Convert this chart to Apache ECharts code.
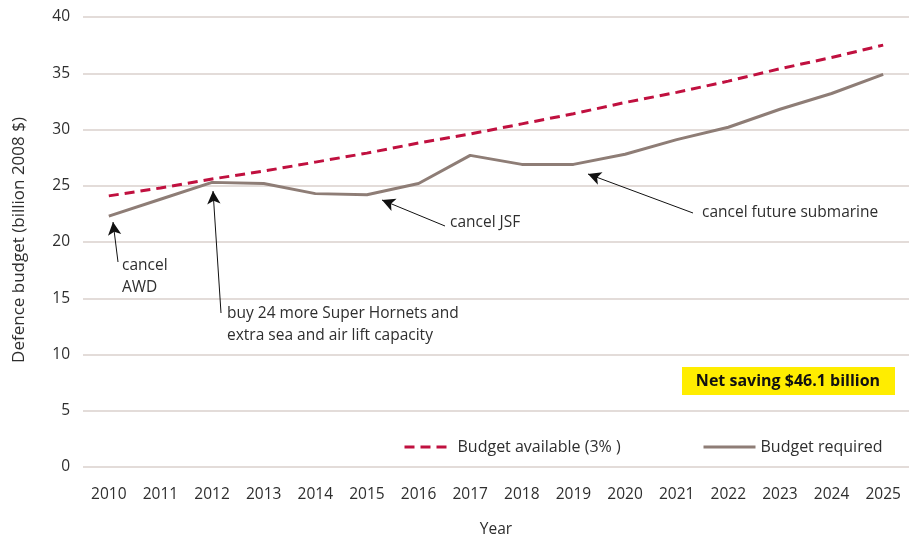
<!DOCTYPE html>
<html>
<head>
<meta charset="utf-8">
<script src="https://cdn.jsdelivr.net/npm/echarts@6/dist/echarts.min.js"></script>
<style>
  html, body { margin: 0; padding: 0; background: #fff; }
  #chart { width: 909px; height: 540px; }
</style>
</head>
<body>
<div id="chart"></div>
<script>
// years on the x axis
const years = ['2010', '2011', '2012', '2013', '2014', '2015', '2016', '2017',
  '2018', '2019', '2020', '2021', '2022', '2023', '2024', '2025']

// budget available, growing at 3% a year
const budgetAvailable = [24.1, 24.8, 25.6, 26.3, 27.1, 27.9, 28.8, 29.6,
  30.5, 31.4, 32.4, 33.3, 34.3, 35.4, 36.4, 37.5]

// budget required (solid line)
const budgetRequired = [22.3, 23.8, 25.3, 25.2, 24.3, 24.2, 25.2, 27.7,
  26.9, 26.9, 27.8, 29.1, 30.2, 31.8, 33.2, 34.9]

const yTicks = { min: 0, max: 40, interval: 5 }

const FONT = '"Open Sans", "Noto Sans", sans-serif'
const TEXT = '#2e2e2e'
const RED = '#c0103f'
const TAUPE = '#8e7d76'
const GRID = '#dad1cd'

const chart = echarts.init(document.getElementById('chart'))

const arrowLine = { color: '#111', width: 1, type: 'solid' }

function note(x, y, text) {
  return {
    type: 'text',
    left: x,
    top: y,
    style: { text, font: '15.5px ' + FONT, fill: TEXT, lineHeight: 22 },
  }
}

chart.setOption({
  animation: false,
  textStyle: { fontFamily: FONT },
  grid: {
    left: 83, right: 0, top: 17, bottom: 73,
    containLabel: false, outerBoundsMode: 'none',
  },
  legend: [
    {
      data: ['Budget available (3% )'],
      left: 398,
      top: 434,
      itemWidth: 48,
      itemHeight: 14,
      itemStyle: { opacity: 0 },
      lineStyle: { width: 3 },
      textStyle: { color: TEXT, fontSize: 16 },
    },
    {
      data: ['Budget required'],
      left: 697,
      top: 434,
      itemWidth: 52,
      itemHeight: 14,
      itemStyle: { opacity: 0 },
      lineStyle: { width: 3 },
      textStyle: { color: TEXT, fontSize: 16 },
    },
  ],
  xAxis: {
    type: 'category',
    data: years,
    boundaryGap: true,
    name: 'Year',
    nameLocation: 'middle',
    nameGap: 55,
    nameTextStyle: { color: TEXT, fontSize: 15.5 },
    axisLine: { show: false },
    axisTick: { show: false },
    axisLabel: { color: TEXT, fontSize: 15.5, margin: 20 },
  },
  yAxis: {
    type: 'value',
    min: yTicks.min,
    max: yTicks.max,
    interval: yTicks.interval,
    name: 'Defence budget (billion 2008 $)',
    nameLocation: 'middle',
    nameGap: 55,
    nameTextStyle: { color: TEXT, fontSize: 17, padding: [0, 0, 0, 4] },
    axisLine: { show: false },
    axisTick: { show: false },
    axisLabel: { color: TEXT, fontSize: 15.5, margin: 13 },
    splitLine: { lineStyle: { color: GRID, width: 1.5 } },
  },
  series: [
    {
      name: 'Budget available (3% )',
      type: 'line',
      data: budgetAvailable,
      symbol: 'none',
      lineStyle: { color: RED, width: 3, type: [10, 6] },
      itemStyle: { color: RED },
      z: 3,
    },
    {
      name: 'Budget required',
      type: 'line',
      data: budgetRequired,
      symbol: 'none',
      lineStyle: { color: TAUPE, width: 3 },
      itemStyle: { color: TAUPE },
      z: 2,
      markLine: {
        silent: true,
        symbol: ['none', 'arrow'],
        symbolSize: [10, 13],
        label: { show: false },
        lineStyle: arrowLine,
        data: [
          [{ x: 118, y: 262 }, { x: 113, y: 222 }],
          [{ x: 221, y: 313 }, { x: 213, y: 191 }],
          [{ x: 445, y: 226 }, { x: 382, y: 200 }],
          [{ x: 693, y: 213 }, { x: 588, y: 174 }],
        ],
      },
    },
  ],
  graphic: [
    note(122, 255, 'cancel\nAWD'),
    note(227, 303, 'buy 24 more Super Hornets and\nextra sea and air lift capacity'),
    note(450, 212, 'cancel JSF'),
    note(702, 202, 'cancel future submarine'),
    {
      type: 'rect',
      shape: { x: 682, y: 367, width: 213, height: 28 },
      style: { fill: '#ffed00' },
    },
    {
      type: 'text',
      x: 788,
      y: 381,
      style: {
        text: 'Net saving $46.1 billion',
        font: 'bold 16px ' + FONT,
        fill: '#111',
        align: 'center',
        verticalAlign: 'middle',
      },
    },
  ],
})
</script>
</body>
</html>
